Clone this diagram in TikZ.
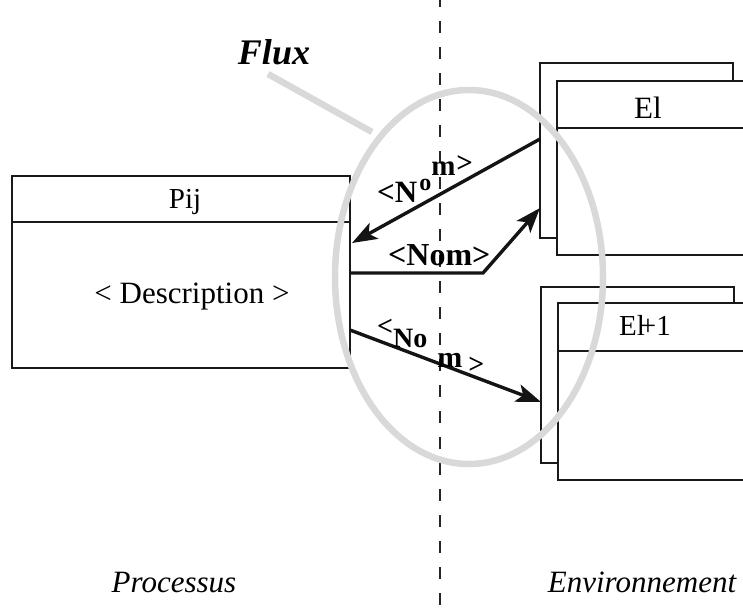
\documentclass[tikz,border=0pt]{standalone}
\usepackage{fontspec}
\setmainfont{Liberation Serif}
\usetikzlibrary{arrows.meta}
\begin{document}
\begin{tikzpicture}[x=1pt,y=-1pt,
  boxline/.style={draw=black!90, line width=2.2pt},
  backbox/.style={draw=black!90, line width=2.2pt, fill=white},
  flow/.style={draw=black!92, line width=3.4pt, line join=miter,
    -{Stealth[length=25pt,width=18pt,inset=6pt]}},
  halo/.style={draw=gray!30, line width=6.5pt},
  divider/.style={draw=black!85, line width=2.5pt, dash pattern=on 12pt off 14pt},
  boxtext/.style={inner sep=0pt, anchor=base},
  flowlbl/.style={inner sep=0pt, anchor=base west, font=\bfseries},
  side/.style={inner sep=0pt, anchor=base, font=\itshape\fontsize{31}{34}\selectfont},
]
\useasboundingbox (0,0) rectangle (743,611);

% boundary between process and environment
\coordinate (divtop) at (440,-5);
\coordinate (divbot) at (440,616);
\draw[divider] (divtop) -- (divbot);

% process box
\draw[boxline] (12,176) rectangle (350,368);
\draw[boxline] (12,222) -- (350,222);
\node[boxtext, font=\fontsize{29}{32}\selectfont] (pij) at (185,208) {Pij};
\node[boxtext, font=\fontsize{31}{34}\selectfont] (desc) at (192,303) {< Description >};

% environment entity El (stacked pair)
\draw[backbox] (540,63) rectangle (733,238);
\draw[backbox] (557,81) rectangle (770,255);
\draw[boxline] (557,128) -- (770,128);
\node[boxtext, font=\fontsize{31}{34}\selectfont] (el) at (648,118) {El};

% environment entity El+1 (stacked pair)
\draw[backbox] (541,287) rectangle (734,463);
\draw[backbox] (558,303) rectangle (770,480);
\draw[boxline] (558,351) -- (770,351);
\node[boxtext, font=\fontsize{29}{31}\selectfont] (elnext) at (645,335) {El\kern-5pt+1};

% flow halo and its callout line
\coordinate (fluxtail) at (268,74);
\coordinate (fluxjoin) at (372,132);
\draw[halo] (fluxtail) -- (fluxjoin);
\draw[halo] (469,277) ellipse [x radius=134, y radius=187];
\node[inner sep=0pt, anchor=base, font=\bfseries\itshape\fontsize{36}{40}\selectfont] (flux) at (274,64) {Flux};

% flow ports
\coordinate (elout) at (540,139);
\coordinate (pijin) at (352,243);
\coordinate (pijout) at (350,273);
\coordinate (bend) at (483,273);
\coordinate (elin) at (540,208);
\coordinate (pijout2) at (350,330);
\coordinate (elnextin) at (541,402);

\draw[flow] (elout) -- (pijin);
\draw[flow] (pijout) -- (bend) -- (elin);
\draw[flow] (pijout2) -- (elnextin);

% flow labels
\node[flowlbl, font=\bfseries\fontsize{31}{34}\selectfont] (lblin) at (377,202)
  {<N\kern2pt\raisebox{12pt}{\fontsize{24}{26}\selectfont o}\raisebox{27pt}{\fontsize{29}{30}\selectfont m\kern1pt\raisebox{3pt}{>}}};
\node[flowlbl, font=\bfseries\fontsize{32}{36}\selectfont] (lblmid) at (388,265) {<Nom>};
\node[flowlbl, font=\bfseries\fontsize{28}{30}\selectfont] (lblout) at (377,347)
  {\raisebox{12pt}{<}No\kern10pt\raisebox{-20pt}{\fontsize{30}{32}\selectfont m}\kern6pt\raisebox{-26pt}{>}};

% side captions
\node[side] (proc) at (174,592) {Processus};
\node[side] (env) at (642,592) {Environnement};
\end{tikzpicture}
\end{document}
